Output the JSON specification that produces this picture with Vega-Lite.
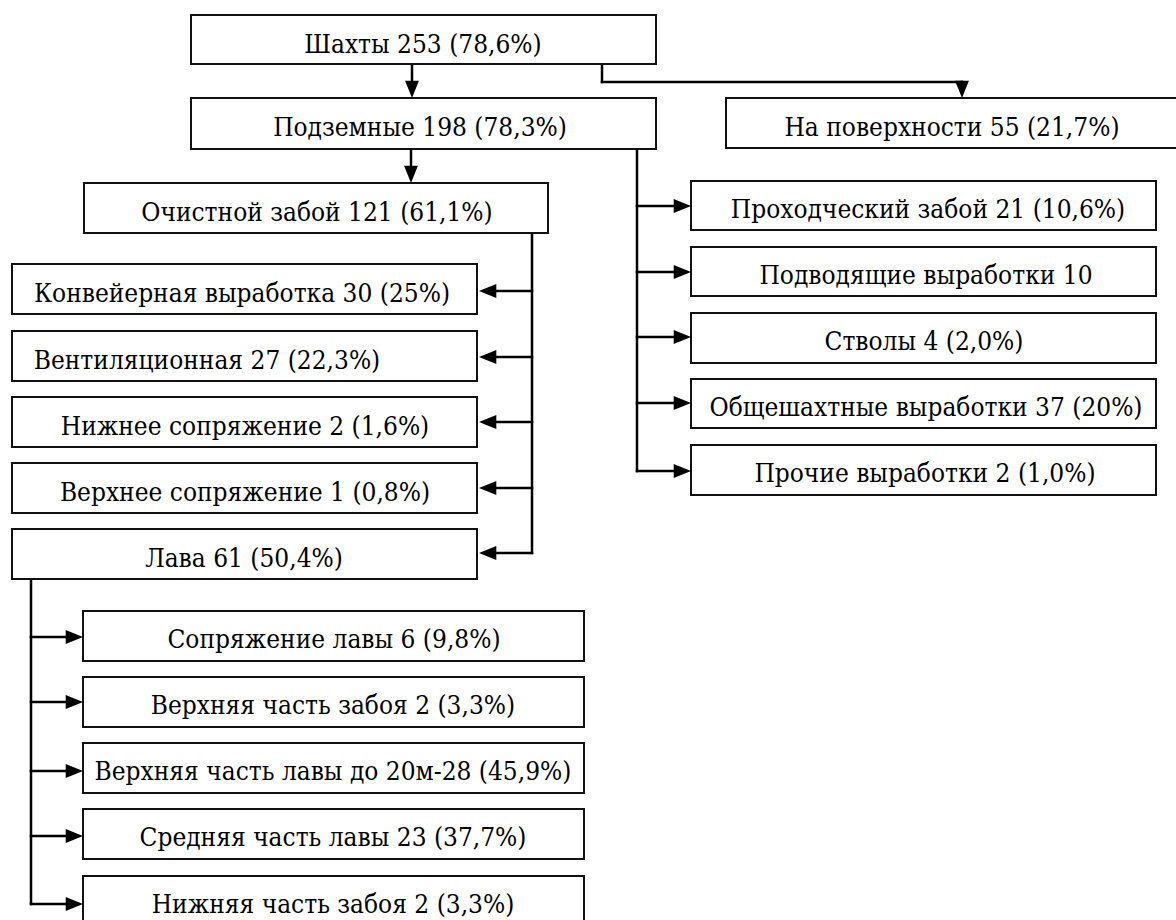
{
  "$schema": "https://vega.github.io/schema/vega-lite/v6.json",
  "width": 1176,
  "height": 920,
  "padding": 0,
  "autosize": {"type": "none"},
  "background": "white",
  "config": {"view": {"stroke": null}},
  "datasets": {
    "boxes": [
      {"label": "Шахты 253 (78,6%)", "x1": 191, "x2": 656, "y1": 15, "y2": 64, "lx": 423, "ly": 53},
      {"label": "Подземные 198 (78,3%)", "x1": 191, "x2": 656, "y1": 98, "y2": 149, "lx": 420, "ly": 136},
      {"label": "На поверхности 55 (21,7%)", "x1": 726, "x2": 1180, "y1": 98, "y2": 148, "lx": 952, "ly": 136},
      {"label": "Очистной забой 121 (61,1%)", "x1": 84, "x2": 548, "y1": 183, "y2": 233, "lx": 317, "ly": 221},
      {"label": "Конвейерная выработка 30 (25%)", "x1": 12, "x2": 477, "y1": 264, "y2": 314, "lx": 242, "ly": 302},
      {"label": "Вентиляционная 27 (22,3%)", "x1": 12, "x2": 477, "y1": 331, "y2": 381, "lx": 207, "ly": 369},
      {"label": "Нижнее сопряжение 2 (1,6%)", "x1": 12, "x2": 477, "y1": 397, "y2": 447, "lx": 245, "ly": 435},
      {"label": "Верхнее сопряжение 1 (0,8%)", "x1": 12, "x2": 477, "y1": 463, "y2": 513, "lx": 245, "ly": 501},
      {"label": "Лава 61 (50,4%)", "x1": 12, "x2": 477, "y1": 529, "y2": 579, "lx": 244, "ly": 567},
      {"label": "Проходческий забой 21 (10,6%)", "x1": 691, "x2": 1156, "y1": 181, "y2": 230, "lx": 928, "ly": 218},
      {"label": "Подводящие выработки 10", "x1": 691, "x2": 1156, "y1": 247, "y2": 296, "lx": 926, "ly": 284},
      {"label": "Стволы 4 (2,0%)", "x1": 691, "x2": 1156, "y1": 313, "y2": 363, "lx": 924, "ly": 350},
      {"label": "Общешахтные выработки 37 (20%)", "x1": 691, "x2": 1156, "y1": 379, "y2": 428, "lx": 926, "ly": 416},
      {"label": "Прочие выработки 2 (1,0%)", "x1": 691, "x2": 1156, "y1": 445, "y2": 495, "lx": 925, "ly": 482},
      {"label": "Сопряжение лавы 6 (9,8%)", "x1": 83, "x2": 584, "y1": 611, "y2": 661, "lx": 334, "ly": 648},
      {"label": "Верхняя часть забоя 2 (3,3%)", "x1": 83, "x2": 584, "y1": 677, "y2": 727, "lx": 333, "ly": 714},
      {"label": "Верхняя часть лавы до 20м-28 (45,9%)", "x1": 83, "x2": 584, "y1": 743, "y2": 793, "lx": 333, "ly": 780},
      {"label": "Средняя часть лавы 23 (37,7%)", "x1": 83, "x2": 584, "y1": 809, "y2": 859, "lx": 333, "ly": 846},
      {"label": "Нижняя часть забоя 2 (3,3%)", "x1": 83, "x2": 584, "y1": 876, "y2": 926, "lx": 333, "ly": 913}
    ],
    "links": [
      {"x": 412, "x2": 412, "y": 64, "y2": 86},
      {"x": 602, "x2": 602, "y": 64, "y2": 82},
      {"x": 602, "x2": 962, "y": 82, "y2": 82},
      {"x": 962, "x2": 962, "y": 82, "y2": 86},
      {"x": 411, "x2": 411, "y": 149, "y2": 170},
      {"x": 637, "x2": 637, "y": 149, "y2": 471},
      {"x": 637, "x2": 678, "y": 206, "y2": 206},
      {"x": 637, "x2": 678, "y": 272, "y2": 272},
      {"x": 637, "x2": 678, "y": 337, "y2": 337},
      {"x": 637, "x2": 678, "y": 403, "y2": 403},
      {"x": 637, "x2": 678, "y": 471, "y2": 471},
      {"x": 532, "x2": 532, "y": 233, "y2": 553},
      {"x": 532, "x2": 492, "y": 291, "y2": 291},
      {"x": 532, "x2": 492, "y": 357, "y2": 357},
      {"x": 532, "x2": 492, "y": 422, "y2": 422},
      {"x": 532, "x2": 492, "y": 488, "y2": 488},
      {"x": 532, "x2": 492, "y": 553, "y2": 553},
      {"x": 31, "x2": 31, "y": 579, "y2": 904},
      {"x": 31, "x2": 70, "y": 637, "y2": 637},
      {"x": 31, "x2": 70, "y": 702, "y2": 702},
      {"x": 31, "x2": 70, "y": 771, "y2": 771},
      {"x": 31, "x2": 70, "y": 836, "y2": 836},
      {"x": 31, "x2": 70, "y": 904, "y2": 904}
    ],
    "heads": [
      {"x": 412, "y": 98, "dir": "down"},
      {"x": 962, "y": 98, "dir": "down"},
      {"x": 411, "y": 183, "dir": "down"},
      {"x": 691, "y": 206, "dir": "right"},
      {"x": 691, "y": 272, "dir": "right"},
      {"x": 691, "y": 337, "dir": "right"},
      {"x": 691, "y": 403, "dir": "right"},
      {"x": 691, "y": 471, "dir": "right"},
      {"x": 479, "y": 291, "dir": "left"},
      {"x": 479, "y": 357, "dir": "left"},
      {"x": 479, "y": 422, "dir": "left"},
      {"x": 479, "y": 488, "dir": "left"},
      {"x": 479, "y": 553, "dir": "left"},
      {"x": 83, "y": 637, "dir": "right"},
      {"x": 83, "y": 702, "dir": "right"},
      {"x": 83, "y": 771, "dir": "right"},
      {"x": 83, "y": 836, "dir": "right"},
      {"x": 83, "y": 904, "dir": "right"}
    ]
  },
  "layer": [
    {
      "data": {"name": "links"},
      "mark": {"type": "rule", "stroke": "black", "strokeWidth": 2.5, "strokeCap": "square"},
      "encoding": {
        "x": {"field": "x", "type": "quantitative", "scale": {"domain": [0, 1176], "nice": false, "zero": false}, "axis": null},
        "x2": {"field": "x2"},
        "y": {"field": "y", "type": "quantitative", "scale": {"domain": [0, 920], "nice": false, "zero": false, "reverse": true}, "axis": null},
        "y2": {"field": "y2"}
      }
    },
    {
      "data": {"name": "boxes"},
      "mark": {"type": "rect", "fill": "white", "stroke": "#111111", "strokeWidth": 2, "clip": true},
      "encoding": {
        "x": {"field": "x1", "type": "quantitative", "scale": {"domain": [0, 1176], "nice": false, "zero": false}, "axis": null},
        "x2": {"field": "x2"},
        "y": {"field": "y1", "type": "quantitative", "scale": {"domain": [0, 920], "nice": false, "zero": false, "reverse": true}, "axis": null},
        "y2": {"field": "y2"}
      }
    },
    {
      "data": {"name": "boxes"},
      "mark": {"type": "text", "font": "DejaVu Serif Condensed, DejaVu Serif", "fontSize": 26, "align": "center", "baseline": "alphabetic", "color": "black", "clip": true},
      "encoding": {
        "x": {"field": "lx", "type": "quantitative", "scale": {"domain": [0, 1176], "nice": false, "zero": false}, "axis": null},
        "y": {"field": "ly", "type": "quantitative", "scale": {"domain": [0, 920], "nice": false, "zero": false, "reverse": true}, "axis": null},
        "text": {"field": "label", "type": "nominal"}
      }
    },
    {
      "data": {"name": "heads"},
      "transform": [{"filter": "datum.dir === 'right'"}],
      "mark": {"type": "point", "shape": "M0,0L-2,-0.8L-2,0.8Z", "size": 300, "filled": true, "color": "black", "opacity": 1},
      "encoding": {
        "x": {"field": "x", "type": "quantitative", "scale": {"domain": [0, 1176], "nice": false, "zero": false}, "axis": null},
        "y": {"field": "y", "type": "quantitative", "scale": {"domain": [0, 920], "nice": false, "zero": false, "reverse": true}, "axis": null}
      }
    },
    {
      "data": {"name": "heads"},
      "transform": [{"filter": "datum.dir === 'left'"}],
      "mark": {"type": "point", "shape": "M0,0L2,-0.8L2,0.8Z", "size": 300, "filled": true, "color": "black", "opacity": 1},
      "encoding": {
        "x": {"field": "x", "type": "quantitative", "scale": {"domain": [0, 1176], "nice": false, "zero": false}, "axis": null},
        "y": {"field": "y", "type": "quantitative", "scale": {"domain": [0, 920], "nice": false, "zero": false, "reverse": true}, "axis": null}
      }
    },
    {
      "data": {"name": "heads"},
      "transform": [{"filter": "datum.dir === 'down'"}],
      "mark": {"type": "point", "shape": "M0,0L-0.8,-2L0.8,-2Z", "size": 300, "filled": true, "color": "black", "opacity": 1},
      "encoding": {
        "x": {"field": "x", "type": "quantitative", "scale": {"domain": [0, 1176], "nice": false, "zero": false}, "axis": null},
        "y": {"field": "y", "type": "quantitative", "scale": {"domain": [0, 920], "nice": false, "zero": false, "reverse": true}, "axis": null}
      }
    }
  ]
}
